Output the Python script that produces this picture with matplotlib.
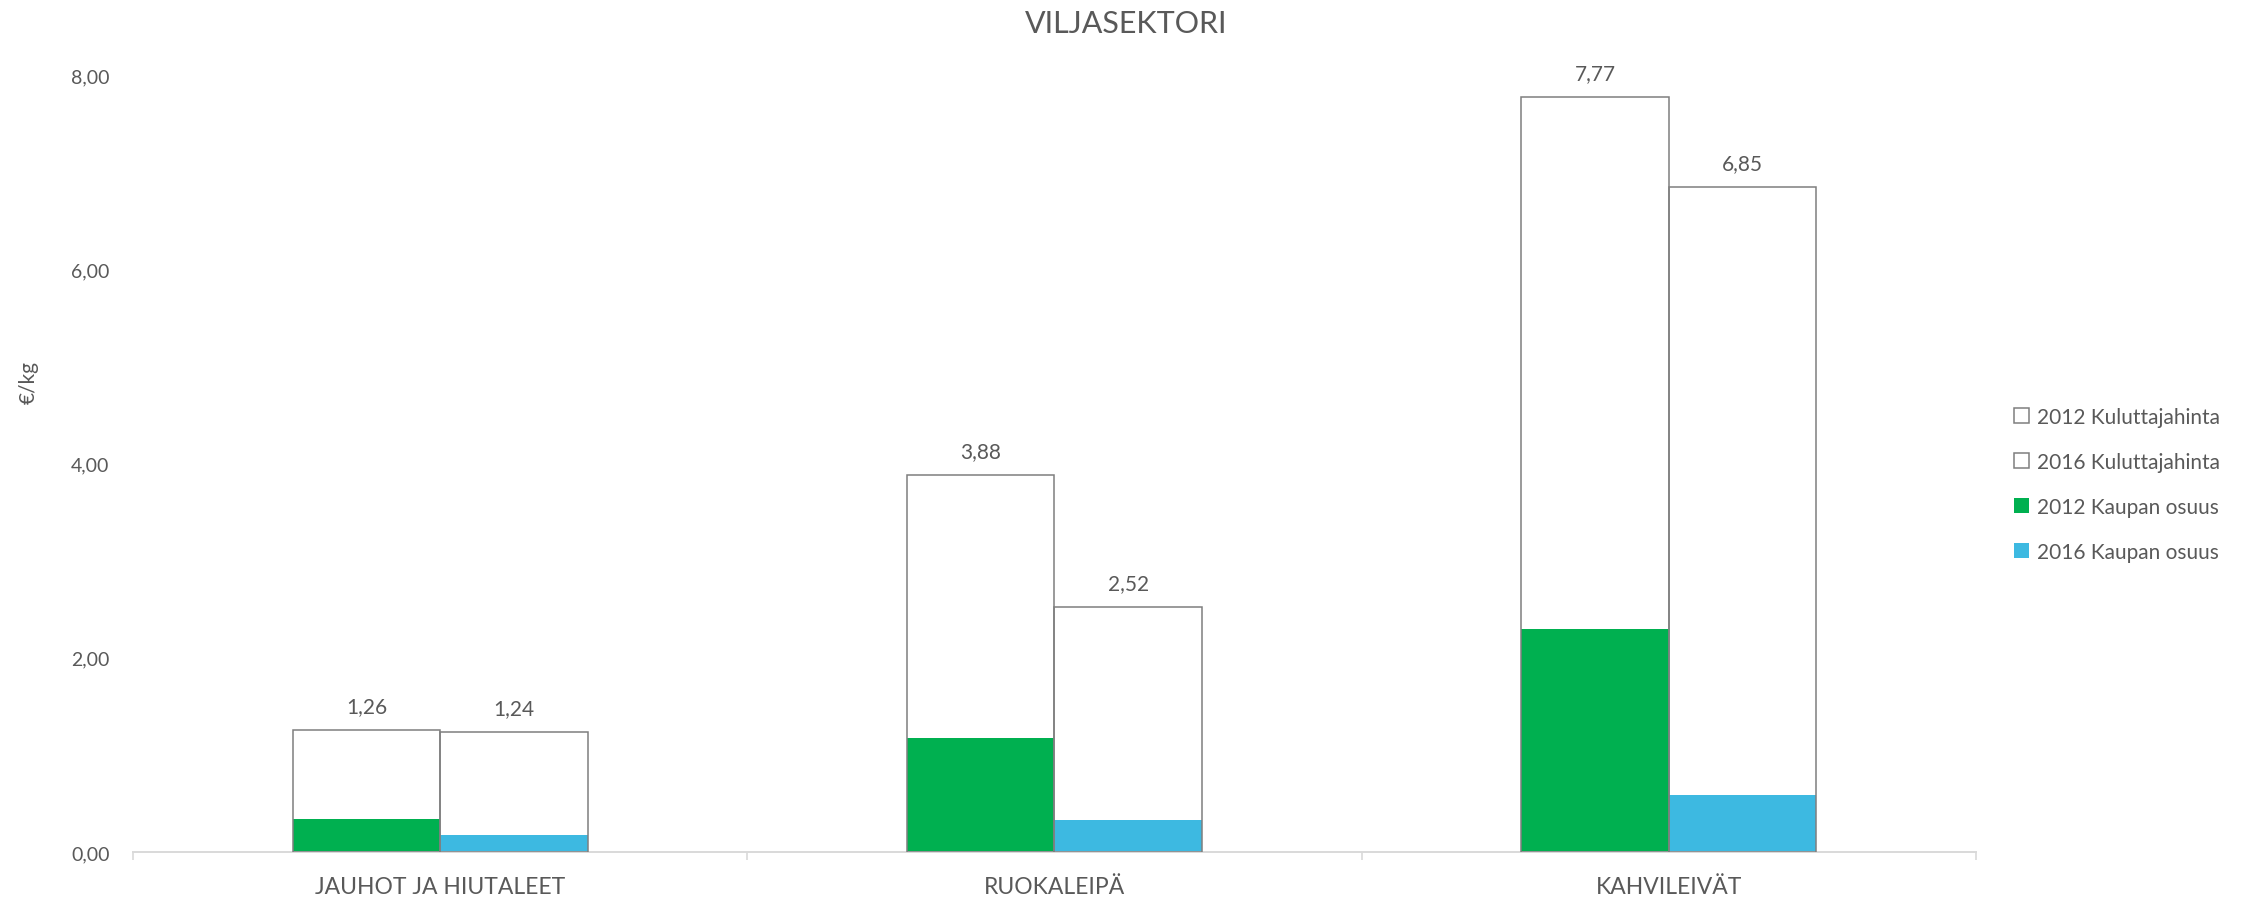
import matplotlib
matplotlib.use("Agg")
import matplotlib.pyplot as plt
from matplotlib.patches import Patch
import numpy as np

plt.rcParams['font.family'] = ['Lato', 'DejaVu Sans']

categories = ["JAUHOT JA HIUTALEET", "RUOKALEIPÄ", "KAHVILEIVÄT"]
price_2012 = [1.26, 3.88, 7.77]
price_2016 = [1.24, 2.52, 6.85]
share_2012 = [0.34, 1.17, 2.30]
share_2016 = [0.18, 0.33, 0.59]
yticks = [0, 2, 4, 6, 8]
title = "VILJASEKTORI"
ylabel = "€/kg"
legend_labels = ["2012 Kuluttajahinta", "2016 Kuluttajahinta", "2012 Kaupan osuus", "2016 Kaupan osuus"]

TXT = "#595959"
GREEN = "#00B050"
BLUE = "#3DB9E1"
EDGE = "#7F7F7F"
AXIS = "#D9D9D9"

fig = plt.figure(figsize=(22.52, 9.04), dpi=100)
ax = fig.add_axes([0.0591, 0.0564, 0.8183, 0.8595])

x = np.arange(len(categories))
w = 0.24
x1 = x - w / 2
x2 = x + w / 2

ax.bar(x1, price_2012, w, color="white", edgecolor="none", zorder=1)
ax.bar(x2, price_2016, w, color="white", edgecolor="none", zorder=1)
ax.bar(x1, share_2012, w, color=GREEN, edgecolor="none", zorder=2)
ax.bar(x2, share_2016, w, color=BLUE, edgecolor="none", zorder=2)
ax.bar(x1, price_2012, w, color="none", edgecolor=EDGE, linewidth=1.1, zorder=3)
ax.bar(x2, price_2016, w, color="none", edgecolor=EDGE, linewidth=1.1, zorder=3)

for xs, vals in ((x1, price_2012), (x2, price_2016)):
    for xi, v in zip(xs, vals):
        ax.annotate(f"{v:.2f}".replace(".", ","), (xi, v), xytext=(0, 10),
                    textcoords="offset points", ha="center", va="bottom",
                    fontsize=15, color=TXT)

ax.set_xlim(-0.5, len(categories) - 0.5)
ax.set_ylim(0, 8)
ax.set_yticks(yticks)
ax.set_yticklabels([f"{t:.2f}".replace(".", ",") for t in yticks])
ax.tick_params(axis="y", length=0, pad=17, labelsize=14, labelcolor=TXT)

ax.set_xticks(x)
ax.set_xticklabels(categories)
ax.set_xticks(np.arange(len(categories) + 1) - 0.5, minor=True)
ax.tick_params(axis="x", which="major", length=0, pad=17, labelsize=16.5, labelcolor=TXT)
ax.tick_params(axis="x", which="minor", length=6, width=1.2, color=AXIS)

for s in ("left", "right", "top"):
    ax.spines[s].set_visible(False)
ax.spines["bottom"].set_color(AXIS)
ax.spines["bottom"].set_linewidth(1.4)

ax.set_ylabel(ylabel, fontsize=15, color=TXT)
ax.yaxis.set_label_coords(-0.051, 0.605)

fig.text(0.5, 0.973, title, ha="center", va="center", fontsize=22, color=TXT)

handles = [
    Patch(facecolor="white", edgecolor=EDGE, linewidth=1.1),
    Patch(facecolor="white", edgecolor=EDGE, linewidth=1.1),
    Patch(facecolor=GREEN, edgecolor="none"),
    Patch(facecolor=BLUE, edgecolor="none"),
]
leg = fig.legend(handles, legend_labels, loc="center left",
                 bbox_to_anchor=(0.8945, 0.463), frameon=False,
                 fontsize=15, handlelength=0.68, handleheight=0.68,
                 handletextpad=0.4, labelspacing=1.2, borderpad=0,
                 borderaxespad=0)
for t in leg.get_texts():
    t.set_color(TXT)

fig.savefig("out.png", dpi=100)
